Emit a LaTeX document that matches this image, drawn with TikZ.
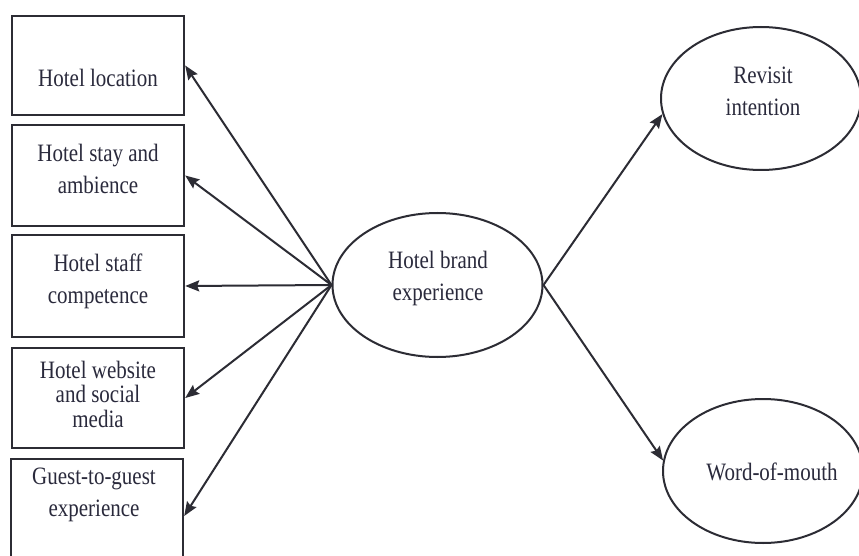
\documentclass[tikz,border=0pt]{standalone}
\usepackage{fontspec}
\setmainfont{Liberation Serif}[FakeStretch=0.84]
\usetikzlibrary{shapes.geometric,arrows.meta}
\definecolor{ink}{HTML}{2C2C34}
\definecolor{txtc}{HTML}{2A2A3C}
\tikzset{
  x=1pt,y=-1pt,
  itembox/.style={draw=ink,line width=2.4pt,minimum width=172pt,inner sep=0pt},
  oval/.style={draw=ink,line width=2pt,ellipse,inner sep=0pt},
  lbl/.style={text=txtc,font=\fontsize{25}{32}\selectfont,align=center,inner sep=0pt},
  link/.style={draw=ink,line width=2pt,-{Stealth[length=14pt,width=11pt,inset=2pt]}}
}
\begin{document}
\begin{tikzpicture}
\useasboundingbox (0,0) rectangle (859,556);
\clip (0,0) rectangle (859,556);
\fill[white] (0,0) rectangle (859,556);

% left-hand dimension boxes
\node[itembox,minimum height=99pt]  (loc)   at (98,65.5)  {};
\node[itembox,minimum height=101pt] (stay)  at (98,175.5) {};
\node[itembox,minimum height=102pt] (staff) at (98,286)   {};
\node[itembox,minimum height=100pt] (web)   at (98,398)   {};
\node[itembox,minimum height=114pt] (guest) at (97,516)   {};

\node[lbl] (tloc)   at (98,78)  {Hotel location};
\node[lbl] (tstay)  at (98,169) {Hotel stay and\\ambience};
\node[lbl] (tstaff) at (98,281) {Hotel staff\\competence};
\node[lbl,font=\fontsize{25}{24.5}\selectfont] (tweb) at (98,394) {Hotel website\\and social\\media};
\node[lbl] (tguest) at (94,495) {Guest-to-guest\\experience};

% central construct and outcomes
\node[oval,minimum width=210pt,minimum height=144pt] (brand) at (437.5,285) {};
\node[lbl] (tbrand) at (438,278.5) {Hotel brand\\experience};

\node[oval,minimum width=200pt,minimum height=143pt] (rev) at (761,98.5) {};
\node[lbl] (trev) at (763,91.5) {Revisit\\intention};

\node[oval,minimum width=200pt,minimum height=144pt] (wom) at (763,471) {};
\node[lbl] (twom) at (772,472) {Word-of-mouth};

% connectors
\foreach \t in {loc,stay,staff,web,guest}
  \draw[link] (brand.west) -- (\t.east);
\draw[link] (brand.east) -- (rev.189);
\draw[link] (brand.east) -- (wom.174);
\end{tikzpicture}
\end{document}
